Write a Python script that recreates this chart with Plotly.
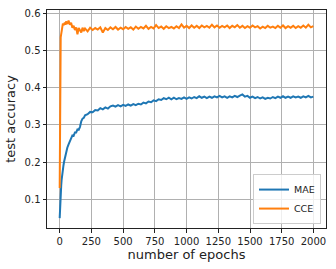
import plotly.graph_objects as go

epochs = ([0, 1, 2, 3, 4, 5, 6, 8, 10, 12, 15, 18, 20, 25, 30, 35, 40, 45, 50,
           60, 70, 80, 90, 100, 110, 120, 130, 140, 150, 160, 170, 180, 190, 200,
           220, 240, 260, 280, 300]
          + list(range(320, 2000, 20)) + [1999])

mae = [0.050, 0.062, 0.072, 0.082, 0.090, 0.097, 0.103, 0.112, 0.125, 0.138,
       0.152, 0.163, 0.168, 0.180, 0.192, 0.202, 0.210, 0.216, 0.225,
       0.239, 0.248, 0.256, 0.263, 0.272, 0.271, 0.280, 0.280, 0.288, 0.287,
       0.295, 0.310, 0.317, 0.319, 0.326, 0.329, 0.335, 0.334, 0.340, 0.339,
       0.345, 0.342, 0.347, 0.344, 0.350, 0.352, 0.349, 0.353, 0.350, 0.354,
       0.351, 0.355, 0.352, 0.356, 0.353, 0.357, 0.355, 0.360, 0.358, 0.363,
       0.361, 0.366, 0.364, 0.369, 0.367, 0.372, 0.369, 0.373, 0.369, 0.373,
       0.369, 0.372, 0.370, 0.374, 0.370, 0.374, 0.371, 0.375, 0.372, 0.377,
       0.373, 0.376, 0.372, 0.376, 0.373, 0.377, 0.374, 0.378, 0.374, 0.377,
       0.373, 0.377, 0.374, 0.378, 0.375, 0.379, 0.382, 0.376, 0.378, 0.373,
       0.376, 0.372, 0.375, 0.371, 0.374, 0.370, 0.373, 0.371, 0.375, 0.372,
       0.376, 0.373, 0.377, 0.373, 0.376, 0.373, 0.377, 0.374, 0.376, 0.373,
       0.377, 0.374, 0.378, 0.374, 0.376]

cce = [0.131, 0.250, 0.360, 0.440, 0.490, 0.510, 0.525, 0.535, 0.540, 0.545,
       0.552, 0.558, 0.563, 0.572, 0.570, 0.568, 0.575, 0.569, 0.578,
       0.571, 0.580, 0.569, 0.574, 0.561, 0.566, 0.555, 0.562, 0.543, 0.560,
       0.555, 0.548, 0.561, 0.552, 0.559, 0.551, 0.561, 0.555, 0.560, 0.556,
       0.562, 0.548, 0.560, 0.555, 0.562, 0.557, 0.563, 0.556, 0.561, 0.557,
       0.563, 0.558, 0.562, 0.556, 0.564, 0.558, 0.563, 0.559, 0.566, 0.558,
       0.563, 0.559, 0.568, 0.560, 0.564, 0.558, 0.565, 0.560, 0.563, 0.559,
       0.565, 0.560, 0.570, 0.561, 0.566, 0.560, 0.567, 0.561, 0.566, 0.560,
       0.567, 0.562, 0.566, 0.561, 0.569, 0.562, 0.567, 0.561, 0.566, 0.562,
       0.567, 0.560, 0.566, 0.562, 0.568, 0.561, 0.566, 0.560, 0.565, 0.561,
       0.567, 0.562, 0.565, 0.559, 0.564, 0.560, 0.566, 0.561, 0.564, 0.560,
       0.566, 0.561, 0.567, 0.560, 0.565, 0.561, 0.566, 0.560, 0.565, 0.561,
       0.567, 0.561, 0.569, 0.562, 0.565]

x_ticks = [0, 250, 500, 750, 1000, 1250, 1500, 1750, 2000]
y_ticks = [0.1, 0.2, 0.3, 0.4, 0.5, 0.6]

font = "DejaVu Sans, Arial, sans-serif"

fig = go.Figure()
fig.add_trace(go.Scatter(x=epochs, y=mae, mode="lines", name="MAE",
                         line=dict(color="#1f77b4", width=2)))
fig.add_trace(go.Scatter(x=epochs, y=cce, mode="lines", name="CCE",
                         line=dict(color="#ff7f0e", width=2)))

axis_common = dict(showline=True, mirror=True, linecolor="#222", linewidth=1,
                   showgrid=True, gridcolor="#b0b0b0", gridwidth=0.8,
                   ticks="outside", ticklen=3.5, tickwidth=0.8, tickcolor="#222",
                   zeroline=False, automargin=False,
                   tickfont=dict(family=font, size=10, color="#222"))

fig.update_layout(
    width=336, height=269,
    margin=dict(l=47, r=10, t=10, b=41),
    paper_bgcolor="white", plot_bgcolor="white",
    font=dict(family=font, color="#222"),
    xaxis=dict(range=[-100, 2099], tickvals=x_ticks,
               title=dict(text="number of epochs", font=dict(family=font, size=13), standoff=4),
               **axis_common),
    yaxis=dict(range=[0.0235, 0.6085], tickvals=y_ticks, tickformat=".1f",
               title=dict(text="test accuracy", font=dict(family=font, size=13), standoff=6),
               **axis_common),
    legend=dict(x=0.982, y=0.018, xanchor="right", yanchor="bottom",
                bgcolor="rgba(255,255,255,0.8)", bordercolor="#ccc", borderwidth=1,
                font=dict(family=font, size=9.5), itemwidth=30,
                tracegroupgap=0),
    showlegend=True,
)

fig.write_html("out.html", config={"displayModeBar": False},
               post_script="document.body.style.margin='0';document.body.style.overflow='hidden';")
